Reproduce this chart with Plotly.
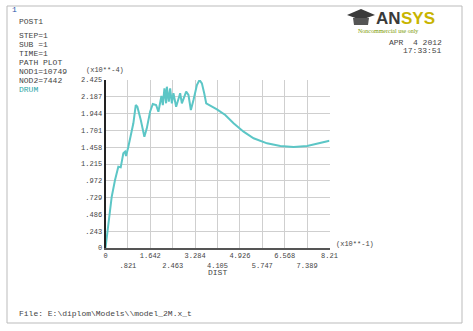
import plotly.graph_objects as go

W, H = 473, 331

# ---- data ----
dist = [0.0, 0.103, 0.228, 0.349, 0.470, 0.558, 0.654, 0.716, 0.753, 0.837,
        0.962, 1.021, 1.109, 1.168, 1.293, 1.425, 1.513, 1.634, 1.734, 1.855,
        1.939, 2.002, 2.050, 2.101, 2.160, 2.222, 2.248, 2.321, 2.369, 2.432,
        2.490, 2.589, 2.736, 2.799, 2.957, 3.041, 3.129, 3.225, 3.350, 3.445,
        3.533, 3.618, 3.691, 4.084, 4.389, 4.694, 5.061, 5.429, 5.921, 6.409,
        6.898, 7.390, 7.879, 8.210]
value = [0.0, 0.308, 0.742, 0.984, 1.176, 1.167, 1.370, 1.393, 1.331, 1.465,
         1.682, 1.804, 2.068, 2.044, 1.851, 1.610, 1.731, 1.971, 2.083, 2.068,
         1.971, 2.116, 2.199, 2.068, 2.310, 2.093, 2.333, 2.116, 2.310, 2.093,
         2.238, 2.044, 2.238, 2.093, 2.261, 2.213, 1.996, 2.141, 2.358, 2.430,
         2.382, 2.238, 2.093, 2.006, 1.924, 1.804, 1.682, 1.587, 1.514, 1.475,
         1.461, 1.475, 1.523, 1.552]

x_tick_vals = [0, 0.821, 1.642, 2.463, 3.284, 4.105, 4.926, 5.747, 6.568, 7.389, 8.21]
x_tick_labels = ["0", ".821", "1.642", "2.463", "3.284", "4.105", "4.926",
                 "5.747", "6.568", "7.389", "8.21"]
y_tick_vals = [0, 0.243, 0.486, 0.729, 0.972, 1.215, 1.458, 1.701, 1.944, 2.187, 2.43]
y_tick_labels = ["0", ".243", ".486", ".729", ".972", "1.215", "1.458", "1.701",
                 "1.944", "2.187", "2.425"]

info_lines = ["STEP=1", "SUB =1", "TIME=1", "PATH PLOT", "NOD1=10749", "NOD2=7442"]

MONO = "Liberation Mono, DejaVu Sans Mono, monospace"
TXT = "#444444"
LINE = "#5cc6c6"


def px(x):
    return x / W


def py(y):
    return 1 - y / H


# alternate tick label rows
x_ticktext = [t if i % 2 == 0 else " <br>" + t for i, t in enumerate(x_tick_labels)]

fig = go.Figure()
fig.add_trace(go.Scatter(x=dist, y=value, mode="lines",
                         line=dict(color=LINE, width=2), hoverinfo="skip",
                         showlegend=False))

fig.update_layout(
    width=W, height=H,
    margin=dict(l=0, r=0, t=0, b=0),
    paper_bgcolor="white", plot_bgcolor="white",
    showlegend=False,
    xaxis=dict(domain=[px(105.5), px(329.5)], range=[0, 8.21],
               tickvals=x_tick_vals, ticktext=x_ticktext, tickangle=0,
               automargin=False,
               showgrid=True, gridcolor="#cfcfcf", gridwidth=1,
               showline=True, linecolor="#555555", linewidth=2,
               zeroline=False, ticks="",
               tickfont=dict(family=MONO, size=7, color=TXT),
               fixedrange=True),
    yaxis=dict(domain=[py(248), py(80)], range=[0, 2.43],
               tickvals=y_tick_vals, ticktext=y_tick_labels,
               automargin=False,
               showgrid=True, gridcolor="#cfcfcf", gridwidth=1,
               showline=True, linecolor="#222222", linewidth=2,
               zeroline=False, ticks="",
               tickfont=dict(family=MONO, size=7, color=TXT),
               fixedrange=True),
)

ann = []


def text(x, y, s, size=8, color=TXT, xanchor="left", yanchor="middle", family=MONO, bold=False):
    if bold:
        s = "<b>" + s + "</b>"
    ann.append(dict(x=px(x), y=py(y), xref="paper", yref="paper", text=s,
                    showarrow=False, xanchor=xanchor, yanchor=yanchor,
                    font=dict(family=family, size=size, color=color)))


text(10, 10, "1", size=8, color="#2255aa")
text(17, 21, "POST1")
for i, s in enumerate(info_lines):
    text(17, 35 + i * 9, s)
text(17, 89, "DRUM", color="#2aa6a6")

text(84, 70, "(x10**-4)", size=7)
text(334, 244, "(x10**-1)", size=7)
text(217, 272, "DIST", size=8, xanchor="center")

text(444, 42, "APR  4 2012", size=8, xanchor="right")
text(444, 51, "17:33:51", size=8, xanchor="right")

# logo
text(374, 19, "AN", size=17, color="#3a3a3a", family="Liberation Sans, Arial", bold=True)
text(399, 19, "SYS", size=17, color="#c8b400", family="Liberation Sans, Arial", bold=True)
text(388, 31, "Noncommercial use only", size=6, color="#7a9a00",
     family="Liberation Serif, serif", xanchor="center")

text(17, 313, "File: E:\\diplom\\Models\\\\model_2M.x_t", size=8)

fig.update_layout(annotations=ann)

shapes = [
    # frame
    dict(type="rect", xref="paper", yref="paper", x0=px(7), x1=px(462), y0=py(323), y1=py(6),
         line=dict(color="#bbbbbb", width=1), fillcolor="rgba(0,0,0,0)", layer="below"),
    # mortarboard hat
    dict(type="path", xref="paper", yref="paper",
         path="M {} {} L {} {} L {} {} L {} {} Z".format(
             px(347), py(15), px(361), py(9), px(375), py(15), px(361), py(20)),
         fillcolor="#3a3a3a", line=dict(width=0)),
    dict(type="path", xref="paper", yref="paper",
         path="M {} {} L {} {} L {} {} L {} {} Z".format(
             px(353), py(18), px(369), py(18), px(368), py(25), px(354), py(25)),
         fillcolor="#555555", line=dict(width=0)),
]
fig.update_layout(shapes=shapes)

fig.write_html("out.html",
               config={"displayModeBar": False, "staticPlot": True},
               post_script="document.body.style.margin='0';document.body.style.overflow='hidden';")
